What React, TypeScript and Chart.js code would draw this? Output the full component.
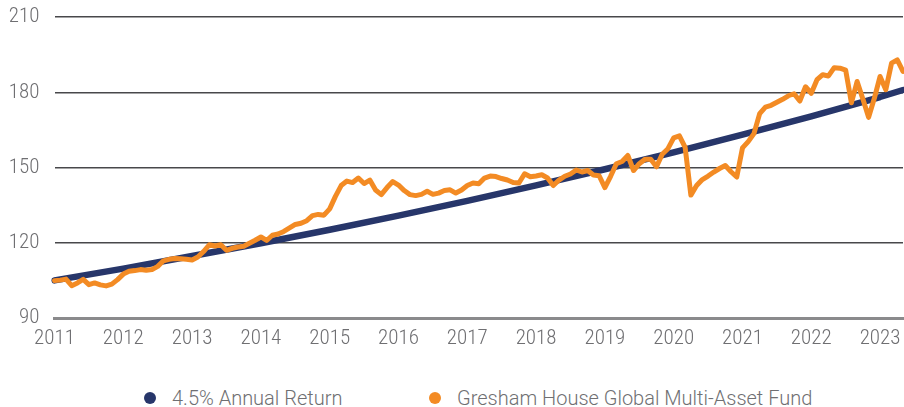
import React, { useEffect, useRef } from 'react';
import { Chart, registerables } from 'chart.js';

Chart.register(...registerables);

// ---- Data ----
const START_YEAR = 2011;
const MONTH_COUNT = 149; // Jan 2011 .. May 2023 (monthly)

const monthLabels: string[] = Array.from({ length: MONTH_COUNT }, (_, i) =>
  `${START_YEAR + Math.floor(i / 12)}-${String((i % 12) + 1).padStart(2, '0')}`
);

const yearTickLabels = ['2011', '2012', '2013', '2014', '2015', '2016', '2017', '2018', '2019', '2020', '2021', '2022', '2023'];

const fundLabel = 'Gresham House Global Multi-Asset Fund';
const fundValues = [
  104.9, 105.1, 105.5, 102.9, 104.0, 105.4, 103.3, 104.0, 103.2, 102.8, 103.5, 105.3,
  107.5, 108.6, 108.9, 109.3, 109.0, 109.3, 110.6, 112.8, 113.4, 113.7, 113.6, 113.4,
  113.1, 114.3, 116.5, 119.2, 118.7, 119.2, 117.0, 117.8, 118.3, 118.6, 119.8, 121.0,
  122.3, 120.9, 123.0, 123.5, 124.5, 125.9, 127.3, 127.8, 128.8, 130.8, 131.3, 131.0,
  133.5, 138.5, 142.8, 144.6, 144.0, 145.8, 143.6, 145.0, 141.0, 139.2, 142.0, 144.4,
  143.0, 140.8, 139.2, 138.8, 139.3, 140.5, 139.3, 139.8, 140.8, 141.1, 139.8, 141.0,
  142.8, 143.8, 143.5, 145.8, 146.6, 146.4, 145.6, 145.0, 144.0, 143.8, 147.5, 146.3,
  146.6, 147.1, 145.8, 142.8, 145.0, 146.5, 147.4, 149.0, 148.2, 148.8, 147.0, 146.7,
  142.0, 146.5, 151.5, 152.4, 154.8, 148.8, 151.5, 153.3, 153.3, 150.3, 155.3, 157.5,
  161.8, 162.6, 158.0, 139.0, 142.8, 145.2, 146.6, 148.2, 149.6, 150.8, 148.3, 146.2,
  157.8, 160.3, 163.5, 171.5, 174.1, 174.8, 176.0, 177.2, 178.6, 179.4, 176.5, 182.2,
  179.6, 185.0, 187.0, 186.5, 189.8, 189.6, 188.8, 175.8, 184.3, 177.3, 170.0, 177.6,
  186.3, 181.0, 191.6, 192.9, 188.3,
];

const benchmarkLabel = '4.5% Annual Return';
const benchmarkMonthIndex = [0, 12, 24, 36, 48, 60, 72, 84, 96, 108, 120, 132, 144, 148];
const benchmarkValues = [105.0, 109.7, 114.7, 119.8, 125.2, 130.8, 136.7, 142.9, 149.3, 156.0, 163.1, 170.4, 178.1, 180.9];

const yMin = 90;
const yMax = 210;
const yStep = 30;

// ---- Style ----
const NAVY = '#27366a';
const ORANGE = '#f38b24';
const TEXT = '#6f6f72';
const TICK_FONT = "'Roboto Condensed', 'Liberation Sans Narrow', Roboto, sans-serif";
const CANVAS_H = 362;

export default function App() {
  const canvasRef = useRef<HTMLCanvasElement | null>(null);

  useEffect(() => {
    if (!canvasRef.current) return;
    const chart = new Chart(canvasRef.current, {
      type: 'line',
      data: {
        labels: monthLabels,
        datasets: [
          {
            label: benchmarkLabel,
            data: benchmarkMonthIndex.map((m, i) => ({ x: monthLabels[m], y: benchmarkValues[i] })) as any,
            borderColor: NAVY,
            backgroundColor: NAVY,
            borderWidth: 6.5,
            pointRadius: 0,
            tension: 0,
            borderCapStyle: 'round',
            borderJoinStyle: 'round',
            order: 1,
          },
          {
            label: fundLabel,
            data: fundValues,
            borderColor: ORANGE,
            backgroundColor: ORANGE,
            borderWidth: 5,
            pointRadius: 0,
            tension: 0,
            borderCapStyle: 'round',
            borderJoinStyle: 'round',
            order: 0,
          },
        ],
      },
      options: {
        animation: false,
        responsive: true,
        maintainAspectRatio: false,
        layout: { padding: { left: 0, right: 1, top: 17, bottom: 0 } },
        plugins: {
          legend: { display: false },
          tooltip: { enabled: false },
        },
        scales: {
          x: {
            type: 'category',
            offset: false,
            grid: { display: false, drawTicks: false },
            border: { display: true, color: '#8a8a8c', width: 3 },
            afterFit: (s: any) => {
              s.height = 44;
              s.paddingLeft = 0;
              s.paddingRight = 0;
            },
            ticks: {
              autoSkip: false,
              maxRotation: 0,
              minRotation: 0,
              padding: 8,
              color: TEXT,
              font: { family: TICK_FONT, size: 21, weight: 300 as any },
              callback: (_v: any, index: number) => {
                const lbl = monthLabels[index];
                if (!lbl || !lbl.endsWith('-01')) return null;
                const yr = lbl.slice(0, 4);
                return yearTickLabels.includes(yr) ? yr : null;
              },
            },
          },
          y: {
            min: yMin,
            max: yMax,
            afterFit: (s: any) => {
              s.width = 54.5;
              s.paddingTop = 0;
              s.paddingBottom = 0;
            },
            grid: {
              drawTicks: false,
              lineWidth: 1.5,
              color: (ctx: any) => (ctx.tick && ctx.tick.value === yMin ? 'rgba(0,0,0,0)' : '#48484b'),
            },
            border: { display: false },
            ticks: {
              stepSize: yStep,
              padding: 15,
              color: TEXT,
              font: { family: TICK_FONT, size: 21, weight: 300 as any },
            },
          },
        },
      },
    });
    return () => chart.destroy();
  }, []);

  const legendText: React.CSSProperties = {
    fontFamily: 'Roboto, sans-serif',
    fontWeight: 300,
    fontSize: 20,
    color: TEXT,
    whiteSpace: 'nowrap',
    lineHeight: '20px',
  };
  const dot = (c: string): React.CSSProperties => ({
    width: 12,
    height: 12,
    borderRadius: '50%',
    background: c,
    marginRight: 16,
    flex: '0 0 auto',
  });

  return (
    <div style={{ position: 'absolute', left: 0, top: 0, width: 904, height: 407, background: '#fff' }}>
      <div style={{ position: 'absolute', left: 0, top: 0, width: 904, height: CANVAS_H }}>
        <canvas ref={canvasRef} />
      </div>
      <div style={{ position: 'absolute', left: 144, top: 388, display: 'flex', alignItems: 'center' }}>
        <span style={dot(NAVY)} />
        <span style={legendText}>{benchmarkLabel}</span>
      </div>
      <div style={{ position: 'absolute', left: 429, top: 388, display: 'flex', alignItems: 'center' }}>
        <span style={dot(ORANGE)} />
        <span style={legendText}>{fundLabel}</span>
      </div>
    </div>
  );
}
